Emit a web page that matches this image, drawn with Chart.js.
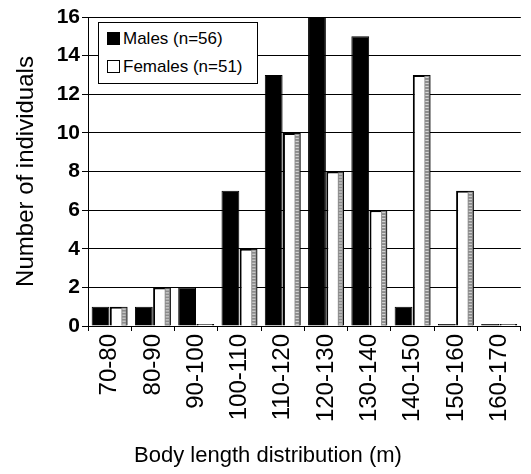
<!DOCTYPE html>
<html lang="en">
<head>
    <meta charset="UTF-8">
    <title>Body length distribution</title>
    <style>
        body {
            margin: 0;
            padding: 0;
            background-color: #ffffff;
            font-family: "Liberation Sans", Arial, sans-serif;
        }

        .wrap {
            position: relative;
            width: 531px;
            height: 474px;
        }

        /* Legend box sitting inside the plot area */
        #legend {
            position: absolute;
            left: 98px;
            top: 22px;
            width: 150px;
            border: 1px solid #000;
            background: #fff;
            padding: 2px 0 2px 8px;
            font-size: 17px;
            line-height: 28px;
            color: #000;
            white-space: nowrap;
        }

        #legend .sw {
            display: inline-block;
            width: 11px;
            height: 11px;
            border: 1.5px solid #000;
            margin-right: 3px;
            vertical-align: -1px;
        }

        /* x axis title, placed like in the original (a bit left of centre) */
        #xtitle {
            position: absolute;
            left: 0;
            width: 536px;
            top: 442px;
            text-align: center;
            font-size: 22px;
            color: #000;
        }
    </style>
    <script src="https://cdn.jsdelivr.net/npm/chart.js"></script>
</head>
<body>
    <div class="wrap">
        <canvas id="chart" width="531" height="474"></canvas>
        <div id="legend">
            <div><span class="sw" style="background:#000"></span>Males (n=56)</div>
            <div><span class="sw" style="background:#fff"></span>Females (n=51)</div>
        </div>
        <div id="xtitle">Body length distribution (m)</div>
    </div>

    <script>
        // Data
        const lengthClasses = ['70-80', '80-90', '90-100', '100-110', '110-120', '120-130', '130-140', '140-150', '150-160', '160-170'];
        const males = [1, 1, 2, 7, 13, 16, 15, 1, 0, 0];
        const females = [1, 2, 0, 4, 10, 8, 6, 13, 7, 0];
        const yTicks = [0, 2, 4, 6, 8, 10, 12, 14, 16];

        // Grey dotted side face on the female bars (like the hatched 3D side)
        const sideFace = {
            id: 'sideFace',
            afterDatasetsDraw(chart) {
                const ctx = chart.ctx;
                const meta = chart.getDatasetMeta(1);
                meta.data.forEach(bar => {
                    const w = bar.width;
                    const h = bar.base - bar.y;
                    if (h < 3) return;
                    const x0 = bar.x + w * 0.15;
                    const sw = w * 0.35 - 1;
                    ctx.save();
                    ctx.fillStyle = '#8c8c8c';
                    ctx.fillRect(x0, bar.y + 1, sw, h - 1);
                    ctx.fillStyle = '#dcdcdc';
                    for (let yy = bar.y + 2; yy < bar.base - 1; yy += 3) {
                        ctx.fillRect(x0 + 1, yy, sw - 2, 1);
                    }
                    ctx.restore();
                });
            }
        };

        const ctx = document.getElementById('chart').getContext('2d');
        new Chart(ctx, {
            type: 'bar',
            data: {
                labels: lengthClasses,
                datasets: [{
                    label: 'Males (n=56)',
                    data: males,
                    backgroundColor: '#000000',
                    borderColor: '#000000',
                    borderWidth: 1
                }, {
                    label: 'Females (n=51)',
                    data: females,
                    backgroundColor: '#ffffff',
                    borderColor: '#000000',
                    borderWidth: 2
                }]
            },
            options: {
                responsive: false,
                animation: false,
                layout: {
                    padding: { top: 17, right: 0, bottom: 0, left: 10 }
                },
                datasets: {
                    bar: {
                        categoryPercentage: 0.84,
                        barPercentage: 0.98,
                        minBarLength: 2
                    }
                },
                plugins: {
                    legend: { display: false },
                    tooltip: { enabled: false }
                },
                scales: {
                    x: {
                        afterFit(axis) {
                            axis.height = 148;
                        },
                        grid: {
                            display: true,
                            drawOnChartArea: false,
                            color: '#000',
                            tickLength: 5
                        },
                        border: { color: '#000', width: 1 },
                        ticks: {
                            color: '#000',
                            minRotation: 90,
                            maxRotation: 90,
                            padding: 3,
                            font: { family: '"Liberation Sans", Arial, sans-serif', size: 24 }
                        }
                    },
                    y: {
                        min: 0,
                        max: 16,
                        afterBuildTicks(axis) {
                            axis.ticks = yTicks.map(v => ({ value: v }));
                        },
                        afterFit(axis) {
                            axis.width = 78;
                        },
                        grid: {
                            color: '#000',
                            lineWidth: 1,
                            tickLength: 6
                        },
                        border: { color: '#000', width: 1 },
                        ticks: {
                            color: '#000',
                            padding: 2,
                            font: { family: '"Liberation Sans", Arial, sans-serif', size: 21, weight: 'bold' }
                        },
                        title: {
                            display: true,
                            text: 'Number of individuals',
                            color: '#000',
                            padding: { top: 2, bottom: 4 },
                            font: { family: '"Liberation Sans", Arial, sans-serif', size: 24 }
                        }
                    }
                }
            },
            plugins: [sideFace]
        });
    </script>
</body>
</html>
